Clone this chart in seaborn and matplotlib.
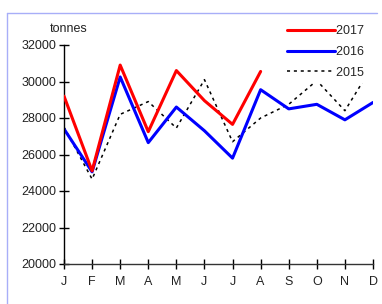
import numpy as np
import pandas as pd
import seaborn as sns
import matplotlib.pyplot as plt
from matplotlib.lines import Line2D

# Monthly tonnages
MONTHS = ["J", "F", "M", "A", "M", "J", "J", "A", "S", "O", "N", "D"]
Y2017 = [29200, 25100, 30900, 27250, 30600, 28950, 27650, 30550]
Y2016 = [27400, 25050, 30250, 26650, 28600, 27300, 25800, 29550, 28500, 28750, 27900, 28850]
Y2015 = [27500, 24650, 28200, 28900, 27450, 30100, 26700, 28000, 28750, 30050, 28400, 30900]

sns.set_style("white")
plt.rcParams["font.family"] = ["Liberation Sans", "DejaVu Sans"]

W, H = 382, 304
fig = plt.figure(figsize=(W / 100, H / 100), dpi=100)
ax = fig.add_axes([64 / W, 40 / H, (373 - 64) / W, (264 - 45) / H])

series = [
    ("2015", Y2015, "black", 1.1, (0, (2, 2.5)), 1),
    ("2016", Y2016, "#0000ff", 2.2, "-", 2),
    ("2017", Y2017, "#ff0000", 2.2, "-", 3),
]
for name, vals, color, lw, ls, z in series:
    df = pd.DataFrame({"month": np.arange(len(vals)), "tonnes": vals})
    sns.lineplot(data=df, x="month", y="tonnes", color=color, lw=lw,
                 linestyle=ls, ax=ax, label=name, zorder=z)

ax.set_xlim(0, 11)
ax.set_ylim(20000, 32000)
ax.set_xticks(range(12))
ax.set_xticklabels(MONTHS)
ax.set_yticks(range(20000, 32001, 2000))
ax.set_xlabel("")
ax.set_ylabel("")
ax.tick_params(axis="both", direction="inout", length=7, width=1,
               bottom=True, left=True, color="black",
               labelsize=9, labelcolor="#222222")
ax.tick_params(axis="x", pad=5)
ax.tick_params(axis="y", pad=2)
for side in ["top", "right"]:
    ax.spines[side].set_visible(False)
ax.spines["left"].set_color("black")
ax.spines["bottom"].set_color("#333333")
ax.spines["left"].set_linewidth(1)
ax.spines["bottom"].set_linewidth(1)

fig.text(50 / W, 1 - 29 / H, "tonnes", fontsize=9, va="center", ha="left", color="#222222")

# legend: 2017, 2016, 2015 order; its white box hides the end of the 2015 line
handles, labels = ax.get_legend_handles_labels()
order = [labels.index(k) for k in ["2017", "2016", "2015"]]
leg = ax.legend([handles[i] for i in order], [labels[i] + "    " for i in order],
                loc="center left", bbox_to_anchor=(283 / W, 1 - 52 / H),
                bbox_transform=fig.transFigure, borderaxespad=0, borderpad=0.3,
                handlelength=3.84, handletextpad=0.1, labelspacing=0.7,
                fontsize=9, frameon=True, fancybox=False, framealpha=1)
leg.get_frame().set_edgecolor("none")
leg.get_frame().set_facecolor("white")
leg.set_zorder(10)

# light blue frame around the chart (left and top edges)
frame_col = "#a8aef8"
fig.add_artist(Line2D([6.5 / W, 377 / W], [1 - 12.5 / H, 1 - 12.5 / H],
                      color=frame_col, lw=1, transform=fig.transFigure))
fig.add_artist(Line2D([6.5 / W, 6.5 / W], [0, 1 - 12.5 / H],
                      color=frame_col, lw=1, transform=fig.transFigure))

fig.savefig("out.png", dpi=100)
